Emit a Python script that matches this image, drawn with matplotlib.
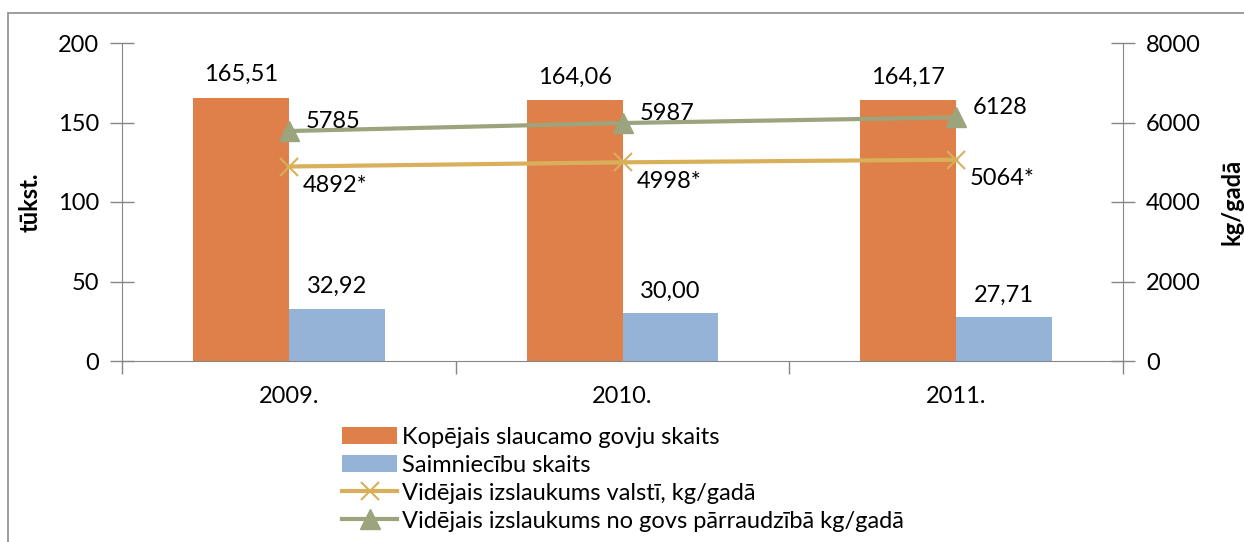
import matplotlib
matplotlib.use("Agg")
import matplotlib.pyplot as plt
import numpy as np
from matplotlib.patches import Rectangle

plt.rcParams['font.family'] = ['Lato', 'DejaVu Sans']

years = ["2009.", "2010.", "2011."]
cows = [165.51, 164.06, 164.17]
farms = [32.92, 30.00, 27.71]
yield_country = [4892, 4998, 5064]
yield_control = [5785, 5987, 6128]

c_orange = "#DF804A"
c_blue = "#95B3D7"
c_yellow = "#D9B05A"
c_green = "#9BA47C"
c_axis = "#868686"
fs = 17

W, H = 1244, 542
fig = plt.figure(figsize=(W/100, H/100), dpi=100)
ax = fig.add_axes([122/W, 1-361/H, (1123-122)/W, (361-43)/H])

x = np.arange(len(years))
bw = 0.287
b1 = ax.bar(x - bw/2, cows, bw, color=c_orange, label="Kopējais slaucamo govju skaits", zorder=2)
b2 = ax.bar(x + bw/2, farms, bw, color=c_blue, label="Saimniecību skaits", zorder=2)
ax.set_xlim(-0.5, len(years)-0.5)
ax.set_ylim(0, 200)
ax.set_yticks([0, 50, 100, 150, 200])
ax.set_xticks(x)
ax.set_xticklabels(years)
ax.set_xticks(np.arange(-0.5, len(years)), minor=True)
ax.tick_params(axis='x', which='major', length=0, labelsize=fs, pad=18)
ax.tick_params(axis='x', which='minor', length=9, width=1, color=c_axis, direction='out')
ax.tick_params(axis='y', length=17, width=1, color=c_axis, direction='inout', labelsize=fs, pad=8)
for s in ['top', 'right']:
    ax.spines[s].set_visible(False)
for s in ['left', 'bottom']:
    ax.spines[s].set_color(c_axis)
ax.set_ylabel("tūkst.", fontsize=fs, fontweight='bold', labelpad=12)

for xi, v in zip(x - bw/2, cows):
    ax.annotate(f"{v:.2f}".replace('.', ','), (xi, v), xytext=(0, 23), textcoords='offset pixels',
                ha='center', va='center', fontsize=fs)
for xi, v in zip(x + bw/2, farms):
    ax.annotate(f"{v:.2f}".replace('.', ','), (xi, v), xytext=(0, 22), textcoords='offset pixels',
                ha='center', va='center', fontsize=fs)

ax2 = ax.twinx()
ax2.set_ylim(0, 8000)
ax2.set_yticks([0, 2000, 4000, 6000, 8000])
ax2.tick_params(axis='y', length=17, width=1, color=c_axis, direction='inout', labelsize=fs, pad=8)
for s in ['top', 'left', 'bottom']:
    ax2.spines[s].set_visible(False)
ax2.spines['right'].set_color(c_axis)
ax2.set_ylabel("kg/gadā", fontsize=fs, fontweight='bold', labelpad=14)

l1, = ax2.plot(x, yield_country, color=c_yellow, lw=3, marker='x', ms=13, mew=1.5,
               label="Vidējais izslaukums valstī, kg/gadā", zorder=3)
l2, = ax2.plot(x, yield_control, color=c_green, lw=3, marker='^', ms=14,
               label="Vidējais izslaukums no govs pārraudzībā kg/gadā", zorder=3)
for xi, v in zip(x, yield_country):
    ax2.annotate(f"{v}*", (xi, v), xytext=(14, -19), textcoords='offset pixels',
                 ha='left', va='center', fontsize=fs)
for xi, v in zip(x, yield_control):
    ax2.annotate(f"{v}", (xi, v), xytext=(17, 10), textcoords='offset pixels',
                 ha='left', va='center', fontsize=fs)

leg = fig.legend(handles=[b1, b2, l1, l2], loc='upper left',
                 bbox_to_anchor=(342/W, 1-427/H), frameon=False, fontsize=fs,
                 handlelength=2.35, handleheight=0.7, handletextpad=0.2, labelspacing=0.29,
                 borderaxespad=0, borderpad=0)

fig.patches.append(Rectangle((8/W, -0.1), 1.2, 1.1 - 13/H, transform=fig.transFigure,
                             fill=False, edgecolor="#8C8C8C", lw=1.2))

fig.savefig("out.png", dpi=100)
